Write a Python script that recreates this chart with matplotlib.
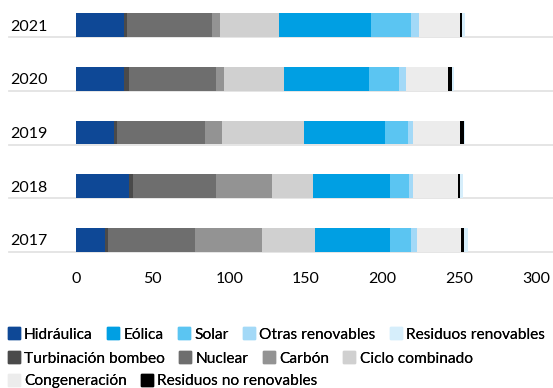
import numpy as np
import matplotlib
matplotlib.use('Agg')
import matplotlib.pyplot as plt
from matplotlib.lines import Line2D

plt.rcParams['font.family'] = ['Lato', 'DejaVu Sans']

years = ['2017', '2018', '2019', '2020', '2021']

# values per source, ordered like the years list
hidraulica = [19.0, 34.7, 24.9, 31.4, 31.0]
turbinacion = [2.0, 2.6, 2.0, 3.3, 2.4]
nuclear = [56.9, 53.7, 56.9, 56.3, 55.0]
carbon = [43.2, 36.6, 11.1, 5.2, 5.2]
ciclo = [34.7, 26.8, 53.7, 39.3, 38.6]
eolica = [49.1, 50.4, 53.0, 55.6, 60.2]
solar = [13.7, 12.4, 15.0, 19.6, 26.2]
otras = [3.9, 2.6, 3.3, 4.6, 5.2]
cogeneracion = [28.8, 29.5, 30.8, 27.5, 26.8]
res_no_renov = [2.0, 1.3, 2.0, 2.2, 1.3]
res_renov = [2.0, 2.0, 0.9, 1.8, 2.0]

series = [
    ('Hidráulica', hidraulica, '#0e4896'),
    ('Turbinación bombeo', turbinacion, '#4a4a4a'),
    ('Nuclear', nuclear, '#6e6e6e'),
    ('Carbón', carbon, '#939393'),
    ('Ciclo combinado', ciclo, '#d0d0d0'),
    ('Eólica', eolica, '#009fe3'),
    ('Solar', solar, '#5bc5f2'),
    ('Otras renovables', otras, '#a3d9f7'),
    ('Congeneración', cogeneracion, '#ececec'),
    ('Residuos no renovables', res_no_renov, '#000000'),
    ('Residuos renovables', res_renov, '#d6eefb'),
]

fig = plt.figure(figsize=(5.53, 3.88), dpi=100)
ax = fig.add_axes([0.1374, 0.3196, 0.832, 0.678])

y = np.arange(len(years))
bar_h = 0.44
left = np.zeros(len(years))
colors = {}
for name, vals, col in series:
    ax.barh(y, vals, left=left, height=bar_h, color=col, zorder=3)
    left += np.array(vals)
    colors[name] = col

# thin grey rule under each row, running under the year label too
for yy in y:
    ax.axhline(yy - bar_h / 2 - 0.01, xmin=-0.145, xmax=1.04, color='#e3e3e3',
               lw=1.3, clip_on=False, zorder=1)

ax.set_xlim(0, 300)
ax.set_ylim(-0.45, 4.45)
ax.set_xticks([0, 50, 100, 150, 200, 250, 300])
ax.set_yticks(y)
ax.set_yticklabels(years, ha='left')
ax.tick_params(axis='y', length=0, pad=47.5, labelsize=11.5)
ax.tick_params(axis='x', length=0, pad=6, labelsize=11.5)
for s in ax.spines.values():
    s.set_visible(False)

rows = [
    ['Hidráulica', 'Eólica', 'Solar', 'Otras renovables', 'Residuos renovables'],
    ['Turbinación bombeo', 'Nuclear', 'Carbón', 'Ciclo combinado'],
    ['Congeneración', 'Residuos no renovables'],
]
row_y = [0.137, 0.076, 0.018]
for names, ry in zip(rows, row_y):
    handles = [Line2D([], [], marker='s', ls='', markersize=9,
                      markerfacecolor=colors[n], markeredgecolor=colors[n]) for n in names]
    leg = fig.legend(handles, names, loc='center left', bbox_to_anchor=(0.014, ry),
                     ncol=len(names), frameon=False, fontsize=11.2,
                     handlelength=0.75, handletextpad=0.3, columnspacing=0.92,
                     borderpad=0, borderaxespad=0)
    fig.add_artist(leg)

fig.savefig('out.png', dpi=100)
